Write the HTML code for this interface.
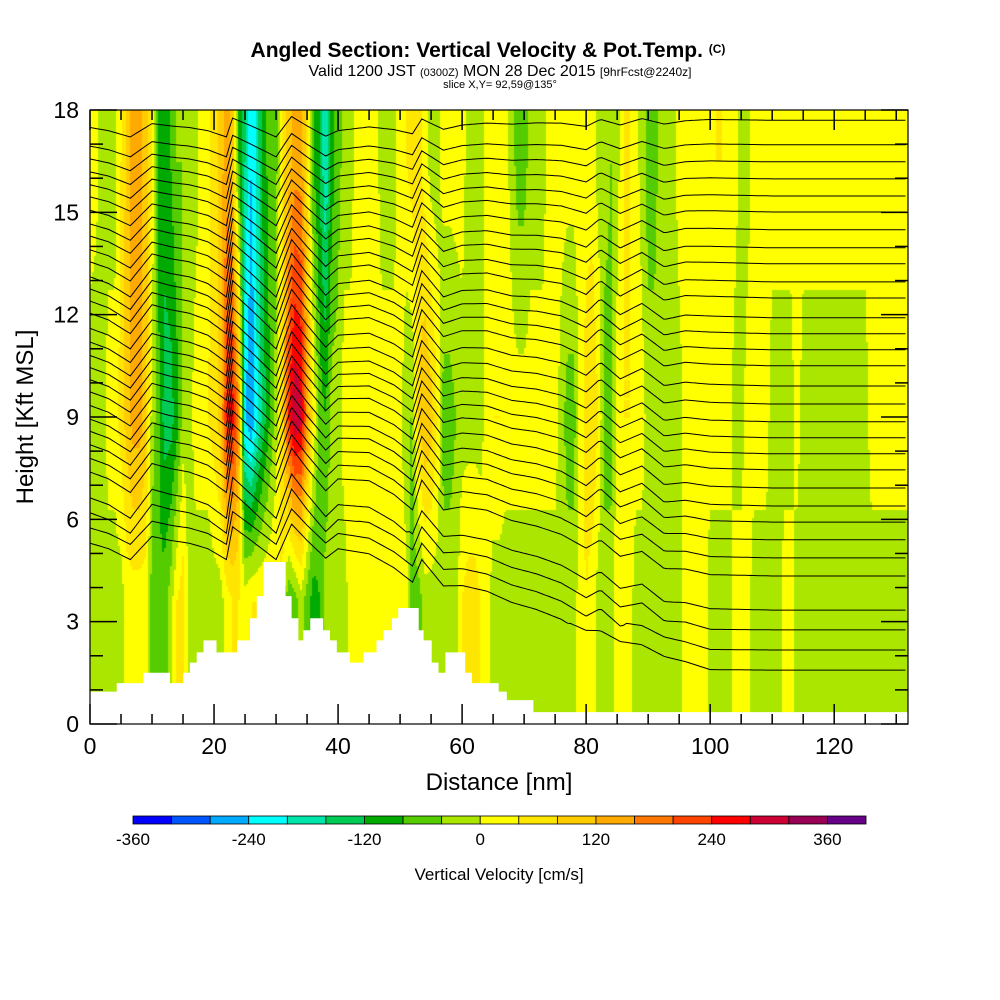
<!DOCTYPE html>
<html><head><meta charset="utf-8">
<style>
html,body{margin:0;padding:0;background:#fff;}
#wrap{position:relative;width:1000px;height:1000px;overflow:hidden;font-family:"Liberation Sans",sans-serif;}
#field{position:absolute;left:90px;top:110px;}
#ov{position:absolute;left:0;top:0;}
</style></head>
<body>
<div id="wrap">
<canvas id="field" width="818" height="614"></canvas>
<svg id="ov" width="1000" height="1000" xmlns="http://www.w3.org/2000/svg">
  <defs><clipPath id="plotclip"><rect x="90" y="110" width="818" height="614"/></clipPath></defs>
  <g id="contours" clip-path="url(#plotclip)"></g>
  <path id="terrain" fill="#fff" stroke="none"/>
  <rect x="90" y="110" width="818" height="614" fill="none" stroke="#000" stroke-width="1.2"/>
  <g id="ticks" stroke="#000"></g>
  <g id="xlabels" font-size="23" text-anchor="middle"></g>
  <g id="ylabels" font-size="23" text-anchor="end"></g>
  <text x="499" y="790" font-size="24" text-anchor="middle">Distance [nm]</text>
  <text transform="translate(33,417) rotate(-90)" font-size="24" text-anchor="middle">Height [Kft MSL]</text>
  <text x="488" y="57" font-size="21" font-weight="bold" text-anchor="middle">Angled Section: Vertical Velocity &amp; Pot.Temp. <tspan font-size="12" dy="-4">(C)</tspan></text>
  <text x="500" y="76" font-size="16" text-anchor="middle">Valid 1200 JST <tspan font-size="11">(0300Z)</tspan> MON 28 Dec 2015 <tspan font-size="12">[9hrFcst@2240z]</tspan></text>
  <text x="500" y="88" font-size="11" text-anchor="middle">slice X,Y= 92,59@135°</text>
  <g id="cbar"></g>
  <g id="cblabels" font-size="17" text-anchor="middle"></g>
  <text x="499" y="880" font-size="17" text-anchor="middle">Vertical Velocity [cm/s]</text>
</svg>
</div>
<script>
// ---- data ----
const colorLevels = [-360,-320,-280,-240,-200,-160,-120,-80,-40,0,40,80,120,160,200,240,280,320,360];
const colorHex = ["#0000ff","#0055ff","#00aaff","#00ffff","#00e6aa","#00cc55","#00aa00","#55cc00","#aae600","#ffff00","#ffe600","#ffcc00","#ffaa00","#ff7700","#ff4400","#ff0000","#cc0033","#990055","#660088"];
const cbLabels = [-360,-240,-120,0,120,240,360];
const xTicks = [0,20,40,60,80,100,120];
const yTicks = [0,3,6,9,12,15,18];
// vertical velocity (cm/s) per nm column at three heights
const wTop = [20,10,-20,-20,-20,40,100,140,140,100,40,-100,-100,-80,-40,-40,-20,-20,20,20,60,100,140,100,-80,-160,-240,-180,-100,-60,-60,60,100,140,140,60,-80,-120,-200,-100,-60,-20,-20,20,20,20,20,-20,-20,-20,20,40,60,60,20,-20,-20,20,20,20,20,-20,-20,-20,20,20,20,20,
 -20,-60,-60,-20,-20,-20,20,20,20,20,20,20,20,20,-20,-20,-40,-20,40,40,20,-20,-60,-60,-20,-20,-20,20,20,20,20,20,20,40,40,20,20,-20,-20,
 20,20,20,20,20,20,20,20,20,20,20,20,20,20,20,20,20,20,20,20,20,20,20,20,20,20];
const wMid = [-20,-20,-20,20,20,60,100,140,140,100,-20,-60,-140,-140,-100,-20,-20,20,20,40,60,100,240,260,160,-240,-280,-200,-140,-80,-20,60,240,320,300,160,40,-60,-80,-20,-20,20,20,20,20,20,40,20,20,20,20,-40,-40,80,120,100,40,-60,-60,-40,-20,-20,-20,-20,20,40,40,20,
 20,20,20,20,20,20,20,20,-20,-60,-60,20,60,80,40,-60,-60,20,40,40,20,20,-20,-20,-20,-20,-20,-20,20,20,20,20,20,20,20,20,-20,-20,20,20,20,20,-20,-20,-20,-20,20,
 -20,-20,-20,-20,-20,-20,-20,-20,-20,-20,-20,20,20,20,20,20,20,20];
const wLow = [-20,-20,-20,-20,-20,-20,20,20,20,20,-60,-80,-60,-20,40,60,-20,-20,-20,-40,-20,-20,20,40,40,20,40,40,40,40,40,40,-80,-60,-20,-60,-100,-80,-20,-20,-20,-20,20,20,20,20,20,20,20,20,20,20,-60,-60,-20,-20,-20,-20,-20,-20,40,60,60,40,20,-20,-20,-20,
 -20,-20,-20,-20,-20,-20,-20,-20,-20,-20,-20,20,40,20,-20,-20,-20,20,20,20,-20,-20,-20,-20,-20,-20,-20,-20,20,20,20,20,-20,-20,-20,-20,20,20,20,-20,-20,-20,-20,-20,20,20,
 -20,-20,-20,-20,-20,-20,-20,-20,-20,-20,-20,-20,-20,-20,-20,-20,-20,-20,-20];
const levelHeights = [16.5, 9.0, 3.6]; // kft of wTop, wMid, wLow
// terrain steps: start nm, height kft
const terrainStart = [0,4.3,8.6,12.9,15.05,16.1,17.2,18.3,20.4,23.7,25.8,26.9,28.0,31.5,32.5,33.6,34.4,35.5,37.6,38.7,39.8,41.9,44.1,46.2,47.3,48.7,49.7,53.0,53.8,55.1,56.2,57.3,60.5,61.6,65.9,67.2,71.5];
const terrainHeight = [0.95,1.2,1.5,1.2,1.5,1.8,2.1,2.45,2.1,2.45,3.1,3.75,4.75,3.75,3.1,2.45,2.75,3.1,2.75,2.45,2.1,1.8,2.1,2.45,2.75,3.1,3.4,2.75,2.45,1.8,1.5,2.1,1.5,1.2,0.95,0.7,0.35];
// potential temperature contour heights (kft) at right edge
const thetaHeights = [17.7,16.98,16.48,15.98,15.48,15.01,14.49,13.96,13.49,12.96,12.49,11.91,11.44,10.97,10.5,9.91,9.38,8.86,8.39,7.92,7.45,6.92,6.39,5.92,5.4,4.87,4.34,3.34,2.76,2.17,1.58];
// contour displacement (kft) nodes
const dispNm = [0,3,6.5,10,13,16,19,22,23,26,30,32.5,35,38,40,45,49,52,53.5,57,60,64,68,72,76,80,82.3,85.5,89,92.6,96,100,110,132];
const dispKft = [0,-0.2,-0.6,0.25,0.1,0,-0.2,-0.6,0.6,0.1,-0.6,0.7,0.1,-0.55,-0.2,0,-0.2,-0.5,0.45,-0.25,0,0.1,0,0.05,0,-0.25,0.2,-0.2,0.2,-0.2,0,0.05,0,0];

// ---- axes ----
const X0=90, X1=908, Y0=724, Y1=110, XMAX=131.9, YMAX=18;
const sx = v => X0 + v*(X1-X0)/XMAX;
const sy = v => Y0 - v*(Y0-Y1)/YMAX;
const NS='http://www.w3.org/2000/svg';
function mk(tag, attrs, parent){const e=document.createElementNS(NS,tag);for(const k in attrs)e.setAttribute(k,attrs[k]);parent.appendChild(e);return e;}

function interp1(arr, t){const n=arr.length;if(t<=0)return arr[0];if(t>=n-1)return arr[n-1];const i=Math.floor(t),f=t-i;return arr[i]*(1-f)+arr[i+1]*f;}
function wAt(nm,h){
  const a=interp1(wTop,nm), b=interp1(wMid,nm), c=interp1(wLow,nm);
  if(h>=levelHeights[0])return a;
  if(h>=levelHeights[1]){const f=(h-levelHeights[1])/(levelHeights[0]-levelHeights[1]);return b*(1-f)+a*f;}
  if(h>=levelHeights[2]){const f=(h-levelHeights[2])/(levelHeights[1]-levelHeights[2]);return c*(1-f)+b*f;}
  return c;
}
function colorFor(w){let i=0;for(let k=0;k<colorLevels.length;k++){if(w>=colorLevels[k])i=k;}return colorHex[i];}

// ---- field ----
const ctx=document.getElementById('field').getContext('2d');
for(let px=0;px<818;px+=2){
  const nm=(px+1)*XMAX/818;
  for(let py=0;py<614;py+=2){
    const h=YMAX-(py+1)*YMAX/614;
    ctx.fillStyle=colorFor(wAt(nm,h));
    ctx.fillRect(px,py,2,2);
  }
}

// ---- contours ----
function dispAt(nm){for(let i=0;i<dispNm.length-1;i++){if(nm>=dispNm[i]&&nm<=dispNm[i+1]){const f=(nm-dispNm[i])/(dispNm[i+1]-dispNm[i]);return dispKft[i]*(1-f)+dispKft[i+1]*f;}}return 0;}
function ampFactor(h){if(h<3)return 0.3;if(h<6)return 0.8;if(h<13)return 1;return Math.max(0.4,1-(h-13)*0.12);}
const cg=document.getElementById('contours');
thetaHeights.forEach((hr,li)=>{
  const hl=5.3+(hr-1.58)*0.756;
  let d='';
  for(let nm=0;nm<=XMAX+0.01;nm+=0.5){
    let t=(nm-40)/60;t=Math.max(0,Math.min(1,t));
    const hb=hl*(1-t)+hr*t;
    let h=hb+dispAt(nm)*ampFactor(hb);
    d+=(nm===0?'M':'L')+sx(nm).toFixed(1)+','+sy(h).toFixed(1);
  }
  const p=mk('path',{d:d,fill:'none',stroke:'#000','stroke-width':'1'},cg);
  
  
});

// ---- terrain ----
(function(){
  let d='M'+sx(0)+','+sy(0);
  for(let i=0;i<terrainStart.length;i++){
    const x0=sx(terrainStart[i]), x1=sx(i+1<terrainStart.length?terrainStart[i+1]:XMAX);
    const y=sy(terrainHeight[i]);
    d+='L'+x0.toFixed(1)+','+y.toFixed(1)+'L'+x1.toFixed(1)+','+y.toFixed(1);
  }
  d+='L'+sx(XMAX)+','+sy(0)+'Z';
  document.getElementById('terrain').setAttribute('d',d);
})();

// ---- ticks & labels ----
const tg=document.getElementById('ticks');
for(let v=0;v<=130;v+=5){
  const x=sx(v), L=(v%20===0)?20:10;
  const t1=mk('line',{x1:x,y1:Y0,x2:x,y2:Y0-L,'stroke-width':1.5},tg);
  
  
  const t2=mk('line',{x1:x,y1:Y1,x2:x,y2:Y1+L,'stroke-width':1.5},tg);
  
  
}
for(let v=0;v<=18;v+=1){
  const y=sy(v), L=(v%3===0)?27:13;
  const t1=mk('line',{x1:X0,y1:y,x2:X0+L,y2:y,'stroke-width':1.5},tg);
  
  
  const t2=mk('line',{x1:X1,y1:y,x2:X1-L,y2:y,'stroke-width':1.5},tg);
  
  
}
const xl=document.getElementById('xlabels');
xTicks.forEach(v=>{const t=mk('text',{x:sx(v),y:754},xl);t.textContent=v;
  
  });
const yl=document.getElementById('ylabels');
yTicks.forEach(v=>{const t=mk('text',{x:79,y:sy(v)+8},yl);t.textContent=v;
  
  });

// ---- colorbar ----
const cb=document.getElementById('cbar');
const CBX=133, CBW=38.58, CBY=816, CBH=8;
colorHex.forEach((c,i)=>{
  const r=mk('rect',{x:CBX+i*CBW,y:CBY,width:CBW,height:CBH,fill:c,stroke:'#000','stroke-width':0.8},cb);
  
  
});
const cbl=document.getElementById('cblabels');
cbLabels.forEach(v=>{
  const x=CBX+(v+360)/40*CBW;
  const t=mk('text',{x:x,y:845},cbl);t.textContent=v;
  
  
});
</script>
</body></html>
